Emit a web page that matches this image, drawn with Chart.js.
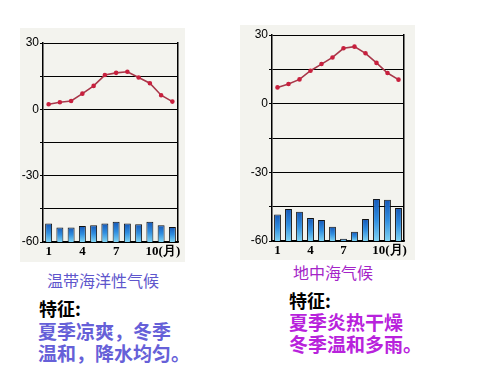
<!DOCTYPE html>
<html>
<head>
<meta charset="utf-8">
<script src="https://cdn.jsdelivr.net/npm/chart.js@4/dist/chart.umd.min.js"></script>
<style>
  body { margin: 0; background: #fff; width: 500px; height: 375px; position: relative; overflow: hidden; }
  canvas { position: absolute; background: #f3f3ee; }
  #c1 { left: 20px; top: 28px; }
  #c2 { left: 240px; top: 25px; }
  .t { position: absolute; font-family: "Noto Sans CJK SC", sans-serif; white-space: nowrap; line-height: 1; }
  .name { font-size: 16px; }
  .feat { font-size: 18px; font-weight: bold; color: #000; }
  .desc { font-size: 19px; font-weight: bold; }
</style>
</head>
<body>
<canvas id="c1" width="165" height="234"></canvas>
<canvas id="c2" width="175" height="235"></canvas>

<div class="t name" style="left:47px;top:272px;color:#5e56cc;">温带海洋性气候</div>
<div class="t feat" style="left:39px;top:299px;">特征:</div>
<div class="t desc" style="left:38px;top:321px;color:#6660d8;">夏季凉爽，冬季</div>
<div class="t desc" style="left:38px;top:343px;color:#6660d8;">温和，降水均匀。</div>

<div class="t name" style="left:293px;top:264px;color:#a424c8;">地中海气候</div>
<div class="t feat" style="left:289px;top:291px;">特征:</div>
<div class="t desc" style="left:289px;top:312px;color:#b822dc;">夏季炎热干燥</div>
<div class="t desc" style="left:289px;top:334px;color:#b822dc;">冬季温和多雨。</div>

<script>
const months = ['1', '2', '3', '4', '5', '6', '7', '8', '9', '10', '11', '12'];
const shownMonths = ['1', '4', '7', '10'];

const tempMaritime = [2.3, 3.2, 3.8, 7.1, 10.6, 15.5, 16.5, 17.0, 14.4, 11.8, 6.4, 3.5];
const rainMaritime = [42, 33, 33, 36, 38, 42, 46, 42, 40, 46, 38, 34];

const tempMed = [7.1, 8.6, 10.6, 14.4, 17.3, 20.2, 24.2, 24.9, 22.0, 17.8, 13.4, 10.5];
const rainMed = [58, 70, 64, 50, 46, 31, 5, 20, 48, 92, 90, 72];

// temperature axis -60..30 (labels every 30), rain axis 0..450 mm hidden
const tempTicks = [30, 0, -30, -60];

function barFill(context) {
  const chart = context.chart;
  const area = chart.chartArea;
  if (!area || context.raw == null) return '#2a78d0';
  const top = chart.scales.p.getPixelForValue(context.raw);
  const g = chart.ctx.createLinearGradient(0, top, 0, area.bottom);
  g.addColorStop(0, '#1558b8');
  g.addColorStop(0.5, '#2f8ee0');
  g.addColorStop(1, '#7fd4f4');
  return g;
}

function makeClimate(id, temps, rain, axisWidth, padding) {
  new Chart(document.getElementById(id), {
    data: {
      labels: months,
      datasets: [
        {
          type: 'line',
          data: temps,
          yAxisID: 'y',
          borderColor: '#a8384a',
          borderWidth: 1.6,
          pointRadius: 1.5,
          pointBackgroundColor: '#c8203e',
          pointBorderColor: '#c8203e',
          tension: 0,
          order: 1
        },
        {
          type: 'bar',
          data: rain,
          yAxisID: 'p',
          backgroundColor: barFill,
          borderColor: '#111',
          borderWidth: 1,
          barPercentage: 0.62,
          categoryPercentage: 1,
          order: 2
        }
      ]
    },
    options: {
      responsive: false,
      devicePixelRatio: 1,
      animation: false,
      layout: { padding: padding },
      plugins: { legend: { display: false }, tooltip: { enabled: false } },
      scales: {
        x: {
          offset: true,
          grid: { display: false, drawTicks: false },
          border: { color: '#000', width: 1.5 },
          afterFit: s => { s.height = 18; },
          ticks: {
            autoSkip: false,
            maxRotation: 0,
            padding: 2,
            color: '#000',
            font: { family: 'Liberation Serif', size: 13, weight: 'bold' },
            callback: (v, i) => {
              const m = months[i];
              if (!shownMonths.includes(m)) return '';
              return m === '10' ? '\u2003\u200310(月)' : m;
            }
          }
        },
        y: {
          min: -60,
          max: 30,
          afterFit: s => { s.width = axisWidth; },
          grid: { color: '#000', lineWidth: 1, tickLength: 3 },
          border: { color: '#000', width: 1.5 },
          ticks: {
            stepSize: 15,
            padding: 1,
            color: '#000',
            font: { family: 'Liberation Sans', size: 12 },
            callback: v => tempTicks.includes(v) ? v : ''
          }
        },
        p: {
          position: 'right',
          min: 0,
          max: 450,
          afterFit: s => { s.width = 0; },
          grid: { display: false },
          border: { color: '#000', width: 1.5 },
          ticks: { display: false }
        }
      }
    }
  });
}

makeClimate('c1', tempMaritime, rainMaritime, 23, { top: 15, right: 7, bottom: 2, left: 0 });
makeClimate('c2', tempMed, rainMed, 32, { top: 10, right: 11, bottom: 1, left: 0 });
</script>
</body>
</html>
